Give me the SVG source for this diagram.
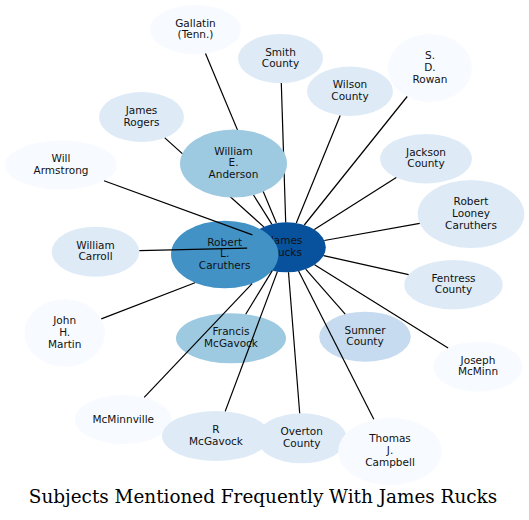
<svg xmlns="http://www.w3.org/2000/svg" width="529" height="520" viewBox="0 0 529 520">
<style>
  .lbl { font-family: "DejaVu Sans", Verdana, sans-serif; font-size: 10.5px; text-anchor: middle; fill: #111; }
  .title { font-family: "DejaVu Serif", "Liberation Serif", serif; font-size: 18.4px; text-anchor: middle; fill: #000; }
  .c0 { fill: #f7fbff; }
  .c1 { fill: #deebf7; }
  .c2 { fill: #c6dbef; }
  .c3 { fill: #9ecae1; }
  .c4 { fill: #4292c6; }
  .c5 { fill: #08519c; }
  .edges line { stroke: #000; stroke-width: 1.2; fill: none; }
</style>
<rect x="0" y="0" width="529" height="520" fill="#fff"/>

<g id="node-james-rucks"><ellipse class="c5" cx="286.5" cy="247.3" rx="39.3" ry="25"/>
  <text class="lbl"><tspan x="286.5" y="244.3">James</tspan><tspan x="286.5" y="256">Rucks</tspan></text></g>
<g id="node-robert-l-caruthers"><ellipse class="c4" cx="224.7" cy="254.5" rx="53.7" ry="33.8"/>
  <text class="lbl"><tspan x="224.7" y="245.6">Robert</tspan><tspan x="224.7" y="257.3">L.</tspan><tspan x="224.7" y="269">Caruthers</tspan></text></g>
<g id="node-gallatin"><ellipse class="c0" cx="195.5" cy="29.5" rx="45.5" ry="24.5"/>
  <text class="lbl"><tspan x="195.5" y="26.5">Gallatin</tspan><tspan x="195.5" y="38.2">(Tenn.)</tspan></text></g>
<g id="node-smith-county"><ellipse class="c1" cx="280.5" cy="58.5" rx="42.5" ry="24.5"/>
  <text class="lbl"><tspan x="280.5" y="55.5">Smith</tspan><tspan x="280.5" y="67.2">County</tspan></text></g>
<g id="node-wilson-county"><ellipse class="c1" cx="350" cy="91.3" rx="43" ry="24.7"/>
  <text class="lbl"><tspan x="350" y="88.3">Wilson</tspan><tspan x="350" y="100">County</tspan></text></g>
<g id="node-sd-rowan"><ellipse class="c0" cx="430" cy="68" rx="42" ry="34"/>
  <text class="lbl"><tspan x="430" y="59.1">S.</tspan><tspan x="430" y="70.8">D.</tspan><tspan x="430" y="82.5">Rowan</tspan></text></g>
<g id="node-james-rogers"><ellipse class="c1" cx="141.5" cy="117" rx="42.5" ry="25"/>
  <text class="lbl"><tspan x="141.5" y="114">James</tspan><tspan x="141.5" y="125.7">Rogers</tspan></text></g>
<g id="node-jackson-county"><ellipse class="c1" cx="426" cy="158.7" rx="46" ry="24.7"/>
  <text class="lbl"><tspan x="426" y="155.7">Jackson</tspan><tspan x="426" y="167.4">County</tspan></text></g>
<g id="node-will-armstrong"><ellipse class="c0" cx="61" cy="165" rx="56" ry="24.5"/>
  <text class="lbl"><tspan x="61" y="162">Will</tspan><tspan x="61" y="173.7">Armstrong</tspan></text></g>
<g id="node-robert-looney-caruthers"><ellipse class="c1" cx="471" cy="214" rx="53.3" ry="34"/>
  <text class="lbl"><tspan x="471" y="205.1">Robert</tspan><tspan x="471" y="216.8">Looney</tspan><tspan x="471" y="228.5">Caruthers</tspan></text></g>
<g id="node-william-carroll"><ellipse class="c1" cx="95.5" cy="251.7" rx="43.8" ry="25"/>
  <text class="lbl"><tspan x="95.5" y="248.7">William</tspan><tspan x="95.5" y="260.4">Carroll</tspan></text></g>
<g id="node-fentress-county"><ellipse class="c1" cx="453.5" cy="284.7" rx="49.2" ry="24.7"/>
  <text class="lbl"><tspan x="453.5" y="281.7">Fentress</tspan><tspan x="453.5" y="293.4">County</tspan></text></g>
<g id="node-john-h-martin"><ellipse class="c0" cx="64.7" cy="333" rx="40.3" ry="33.7"/>
  <text class="lbl"><tspan x="64.7" y="324.1">John</tspan><tspan x="64.7" y="335.8">H.</tspan><tspan x="64.7" y="347.5">Martin</tspan></text></g>
<g id="node-francis-mcgavock"><ellipse class="c3" cx="231" cy="338.3" rx="55" ry="25"/>
  <text class="lbl"><tspan x="231" y="335.3">Francis</tspan><tspan x="231" y="347">McGavock</tspan></text></g>
<g id="node-sumner-county"><ellipse class="c2" cx="365" cy="336.7" rx="45.8" ry="25"/>
  <text class="lbl"><tspan x="365" y="333.7">Sumner</tspan><tspan x="365" y="345.4">County</tspan></text></g>
<g id="node-joseph-mcminn"><ellipse class="c0" cx="478" cy="366.7" rx="44.7" ry="25"/>
  <text class="lbl"><tspan x="478" y="363.7">Joseph</tspan><tspan x="478" y="375.4">McMinn</tspan></text></g>
<g id="node-mcminnville"><ellipse class="c0" cx="123.3" cy="419.5" rx="48.3" ry="24.5"/>
  <text class="lbl" x="123.3" y="422.5">McMinnville</text></g>
<g id="node-r-mcgavock"><ellipse class="c1" cx="216" cy="436" rx="54" ry="25"/>
  <text class="lbl"><tspan x="216" y="433">R</tspan><tspan x="216" y="444.7">McGavock</tspan></text></g>
<g id="node-overton-county"><ellipse class="c1" cx="301.7" cy="438.3" rx="45" ry="25"/>
  <text class="lbl"><tspan x="301.7" y="435.3">Overton</tspan><tspan x="301.7" y="447">County</tspan></text></g>
<g id="node-thomas-j-campbell"><ellipse class="c0" cx="390" cy="451.3" rx="51.7" ry="33.7"/>
  <text class="lbl"><tspan x="390" y="442.4">Thomas</tspan><tspan x="390" y="454.1">J.</tspan><tspan x="390" y="465.8">Campbell</tspan></text></g>

<g id="connectors" class="edges">
  <line x1="205.5" y1="53.4" x2="276.4" y2="223.1"/>
  <line x1="281.3" y1="83.0" x2="285.7" y2="222.3"/>
  <line x1="340.2" y1="115.4" x2="296.3" y2="223.1"/>
  <line x1="407.2" y1="96.5" x2="304.3" y2="225.0"/>
  <line x1="164.8" y1="137.9" x2="263.8" y2="226.9"/>
  <line x1="253.5" y1="195.0" x2="271.8" y2="224.1"/>
  <line x1="396.3" y1="177.6" x2="314.3" y2="229.6"/>
  <line x1="104.0" y1="180.7" x2="252.4" y2="234.9"/>
  <line x1="419.7" y1="223.3" x2="324.3" y2="240.5"/>
  <line x1="139.3" y1="250.7" x2="247.2" y2="248.2"/>
  <line x1="408.6" y1="274.6" x2="323.6" y2="255.6"/>
  <line x1="101.3" y1="318.9" x2="195.0" y2="282.7"/>
  <line x1="245.7" y1="314.2" x2="272.3" y2="270.6"/>
  <line x1="345.2" y1="314.2" x2="305.7" y2="269.1"/>
  <line x1="448.1" y1="348.1" x2="314.6" y2="264.8"/>
  <line x1="144.2" y1="397.4" x2="252.1" y2="283.6"/>
  <line x1="225.2" y1="411.4" x2="277.4" y2="271.6"/>
  <line x1="299.7" y1="413.3" x2="288.5" y2="272.3"/>
  <line x1="373.8" y1="419.3" x2="298.6" y2="271.1"/>
</g>

<g id="node-william-e-anderson"><ellipse class="c3" cx="233.5" cy="163.5" rx="53.5" ry="34"/>
  <text class="lbl"><tspan x="233.5" y="154.6">William</tspan><tspan x="233.5" y="166.3">E.</tspan><tspan x="233.5" y="178">Anderson</tspan></text></g>

<text class="title" x="263" y="503.3">Subjects Mentioned Frequently With James Rucks</text>
</svg>
